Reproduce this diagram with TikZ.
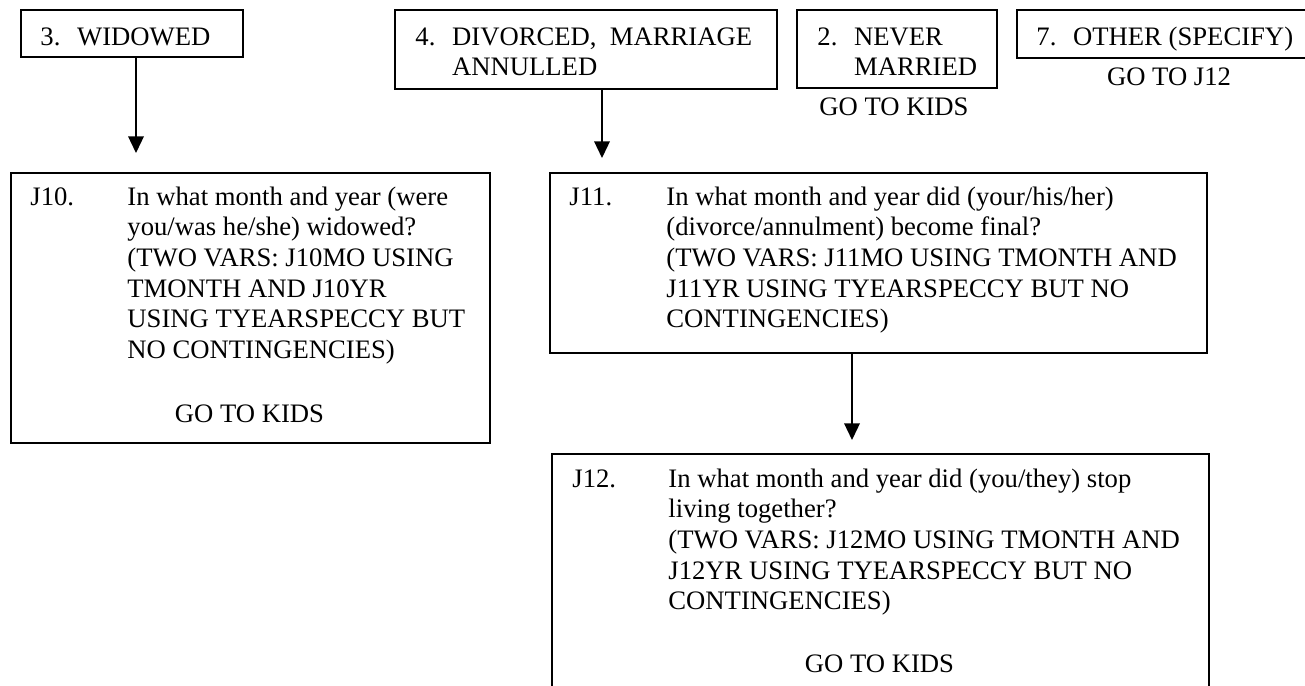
\documentclass[tikz,border=0pt]{standalone}
\usepackage{fontspec}
\setmainfont{Liberation Serif}
\usetikzlibrary{arrows.meta}

\newcommand{\optlbl}[2]{\makebox[16.5pt][l]{#1}#2}
\newcommand{\lines}[1]{\begin{tabular}[t]{@{}l@{}}#1\end{tabular}}

\begin{document}
\begin{tikzpicture}[x=0.45pt, y=-0.45pt,
    font=\fontsize{12pt}{13.8pt}\selectfont,
    box/.style={draw, line width=0.9pt, inner sep=0pt, anchor=north west},
    txt/.style={inner sep=0pt, anchor=base west},
    goto/.style={inner sep=0pt, anchor=base},
    flow/.style={-{Triangle[length=7.5pt,width=7pt]}, line width=0.75pt}]
  \useasboundingbox (0,0) rectangle (1305,685);

  % answer boxes on top
  \node [box, minimum width=99.9pt, minimum height=21.15pt] (widowed) at (20,9) {};
  \node [box, minimum width=171.9pt, minimum height=35.55pt] (divorced) at (394,9) {};
  \node [box, minimum width=90pt, minimum height=35.1pt] (never) at (796,9) {};
  \node [box, minimum width=135pt, minimum height=21.6pt] (other) at (1016,9) {};

  \node [txt] (widowedtxt) at (40,45) {\optlbl{3.}{WIDOWED}};
  \node [txt] (divorcedtxt) at (415,45) {\lines{\optlbl{4.}{DIVORCED,\ \ MARRIAGE}\\\hspace*{16.5pt}ANNULLED}};
  \node [txt] (nevertxt) at (817,45) {\lines{\optlbl{2.}{NEVER}\\\hspace*{16.5pt}MARRIED}};
  \node [txt] (othertxt) at (1036,45) {\optlbl{7.}{OTHER (SPECIFY)}};

  \node [goto] (nevergo) at (894,115) {GO TO KIDS};
  \node [goto] (othergo) at (1169,85) {GO TO J12};

  % question boxes
  \node [box, minimum width=215.55pt, minimum height=121.5pt] (j10) at (10,172) {};
  \node [box, minimum width=295.65pt, minimum height=81pt] (j11) at (549,172) {};
  \node [box, minimum width=295.65pt, minimum height=117pt] (j12) at (551,453) {};

  \node [txt] (j10lbl) at (30,205) {J10.};
  \node [txt] (j10txt) at (127,205) {\lines{In what month and year (were\\
    you/was he/she) widowed?\\
    (TWO VARS: J10MO USING\\
    TMONTH AND J10YR\\
    USING TYEARSPECCY BUT\\
    NO CONTINGENCIES)}};
  \node [goto] (j10go) at (249.5,422) {GO TO KIDS};

  \node [txt] (j11lbl) at (569,205) {J11.};
  \node [txt] (j11txt) at (666,205) {\lines{In what month and year did (your/his/her)\\
    (divorce/annulment) become final?\\
    (TWO VARS: J11MO USING TMONTH AND\\
    J11YR USING TYEARSPECCY BUT NO\\
    CONTINGENCIES)}};

  \node [txt] (j12lbl) at (572,487) {J12.};
  \node [txt] (j12txt) at (668,487) {\lines{In what month and year did (you/they) stop\\
    living together?\\
    (TWO VARS: J12MO USING TMONTH AND\\
    J12YR USING TYEARSPECCY BUT NO\\
    CONTINGENCIES)}};
  \node [goto] (j12go) at (879.5,672) {GO TO KIDS};

  % arrows
  \coordinate (a1) at (136,153);
  \coordinate (a2) at (602,158);
  \coordinate (a3) at (852,440);
  \draw [flow] (widowed.south -| a1) -- (a1);
  \draw [flow] (divorced.south -| a2) -- (a2);
  \draw [flow] (j11.south -| a3) -- (a3);
\end{tikzpicture}
\end{document}
